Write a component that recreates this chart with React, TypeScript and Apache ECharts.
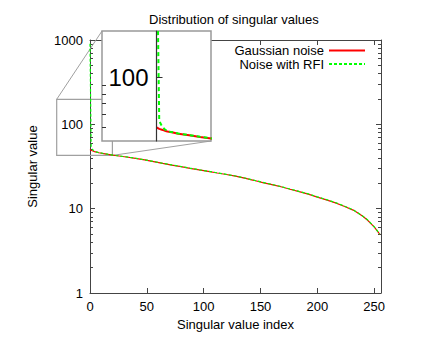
import React, { useEffect, useRef } from 'react';
import * as echarts from 'echarts';

const titleText = 'Distribution of singular values';
const seriesNames = ['Gaussian noise', 'Noise with RFI'];
const xAxisName = 'Singular value index';
const yAxisName = 'Singular value';

const sampleIndex = [0, 1, 2, 3, 4, 6, 8, 12, 16, 20, 24, 32, 40, 48, 56, 64, 72, 80, 88, 96, 104, 112, 120, 128, 136, 144, 152, 160, 168, 176, 184, 192, 200, 208, 216, 224, 232, 240, 244, 248, 250, 252, 254, 255];
const gaussianValues = [50.3, 49.2, 48.6, 48.0, 47.5, 46.8, 46.0, 45.0, 44.0, 43.1, 42.4, 41.0, 39.5, 37.9, 36.1, 34.4, 32.9, 31.5, 30.1, 28.8, 27.7, 26.5, 25.4, 24.3, 23.0, 21.7, 20.4, 19.3, 18.2, 17.0, 15.9, 14.9, 13.7, 12.7, 11.7, 10.6, 9.55, 8.11, 7.34, 6.47, 6.07, 5.6, 5.16, 4.95];
const rfiValues = [900, 55, 51, 49, 47.6, 46.9, 46.1, 45.1, 44.1, 43.2, 42.4, 41.1, 39.6, 38.0, 36.2, 34.5, 33.0, 31.6, 30.2, 28.9, 27.8, 26.6, 25.5, 24.4, 23.1, 21.8, 20.5, 19.4, 18.3, 17.1, 16.0, 15.0, 13.8, 12.8, 11.8, 10.7, 9.6, 8.15, 7.4, 6.5, 6.1, 5.65, 5.2, 4.98];

const xTicks = [0, 50, 100, 150, 200, 250];
const xRange = [0, 256];
const yRange = [1, 1000];
const yMajorTicks = [1, 10, 100, 1000];
const yMinorTicks = [2, 3, 4, 5, 6, 7, 8, 9, 20, 30, 40, 50, 60, 70, 80, 90, 200, 300, 400, 500, 600, 700, 800, 900];
const insetXRange = [-20, 20];
const insetYRange = [41.6, 191];
const insetMajorTicks = [100];
const insetMinorTicks = [50, 60, 70, 80, 90];
const zoomBoxX = [-29.3, 19.7];
const zoomBoxY = [42.8, 198];

const FONT = "'Liberation Sans', Arial, Helvetica, sans-serif";
const FRAME = '#444';
const BOX = '#a0a0a0';
const RED = '#ff0000';
const GREEN = '#00ff00';

const INSET = { left: 102, top: 31, width: 109, height: 110 };

const pairs = (vals: number[]) => sampleIndex.map((x, i) => [x, vals[i]]);
const plainNumber = (v: number) => String(Math.round(v));

export default function App() {
  const ref = useRef<HTMLDivElement>(null);
  useEffect(() => {
    document.body.style.margin = '0';
    if (!ref.current) return;
    const chart = echarts.init(ref.current, undefined, { renderer: 'svg' });
    const hiddenAxisBits = {
      axisLabel: { show: false },
      splitLine: { show: false },
    };
    // distance between the inset's grid edge and its zero line, from the inset x range
    const insetZeroOffset = INSET.width * (0 - insetXRange[0]) / (insetXRange[1] - insetXRange[0]);
    const option: any = {
      animation: false,
      textStyle: { fontFamily: FONT },
      title: {
        text: titleText,
        left: 149,
        top: 13,
        padding: 0,
        textStyle: { fontSize: 13, fontWeight: 'normal', color: '#000', fontFamily: FONT },
      },
      legend: {
        data: seriesNames,
        orient: 'vertical',
        align: 'right',
        right: 70,
        top: 44,
        itemWidth: 36,
        itemHeight: 12,
        itemGap: 0.5,
        padding: 0,
        selectedMode: false,
        itemStyle: { opacity: 0 },
        textStyle: { fontSize: 13, lineHeight: 12, color: '#000', fontFamily: FONT },
      },
      grid: [
        { left: 90, top: 40, width: 291, height: 253, outerBoundsMode: 'none', containLabel: false },
        {
          ...INSET, outerBoundsMode: 'none', containLabel: false,
          show: true, backgroundColor: '#fff', borderColor: '#999', borderWidth: 1.5, z: 3,
        },
      ],
      xAxis: [
        {
          gridIndex: 0, type: 'value', min: xRange[0], max: xRange[1], position: 'bottom',
          axisLine: { onZero: false, lineStyle: { color: FRAME } },
          axisTick: { inside: true, length: 5, customValues: xTicks, lineStyle: { color: FRAME } },
          axisLabel: { customValues: xTicks, fontSize: 13, color: '#000', margin: 7, fontFamily: FONT },
          splitLine: { show: false },
          name: xAxisName, nameLocation: 'middle', nameGap: 25,
          nameTextStyle: { fontSize: 13, color: '#000', fontFamily: FONT },
        },
        {
          gridIndex: 0, type: 'value', min: xRange[0], max: xRange[1], position: 'top',
          axisLine: { onZero: false, lineStyle: { color: FRAME } },
          axisTick: { inside: true, length: 5, customValues: xTicks, lineStyle: { color: FRAME } },
          ...hiddenAxisBits,
        },
        {
          gridIndex: 1, type: 'value', min: insetXRange[0], max: insetXRange[1], show: false,
        },
      ],
      yAxis: [
        {
          gridIndex: 0, type: 'log', logBase: 10, min: yRange[0], max: yRange[1], position: 'left',
          axisLine: { onZero: false, lineStyle: { color: FRAME } },
          axisTick: { inside: true, length: 5, customValues: yMajorTicks, lineStyle: { color: FRAME } },
          axisLabel: { customValues: yMajorTicks, formatter: plainNumber, fontSize: 13, color: '#000', margin: 7, fontFamily: FONT },
          splitLine: { show: false },
          name: yAxisName, nameLocation: 'middle', nameGap: 51,
          nameTextStyle: { fontSize: 13, color: '#000', fontFamily: FONT },
        },
        {
          gridIndex: 0, type: 'log', logBase: 10, min: yRange[0], max: yRange[1], position: 'right',
          axisLine: { onZero: false, lineStyle: { color: FRAME } },
          axisTick: { inside: true, length: 5, customValues: yMajorTicks, lineStyle: { color: FRAME } },
          ...hiddenAxisBits,
        },
        {
          gridIndex: 0, type: 'log', logBase: 10, min: yRange[0], max: yRange[1], position: 'left',
          axisLine: { show: false, onZero: false },
          axisTick: { inside: true, length: 3, customValues: yMinorTicks, lineStyle: { color: FRAME } },
          ...hiddenAxisBits,
        },
        {
          gridIndex: 0, type: 'log', logBase: 10, min: yRange[0], max: yRange[1], position: 'right',
          axisLine: { show: false, onZero: false },
          axisTick: { inside: true, length: 3, customValues: yMinorTicks, lineStyle: { color: FRAME } },
          ...hiddenAxisBits,
        },
        {
          gridIndex: 1, type: 'log', logBase: 10, min: insetYRange[0], max: insetYRange[1], position: 'left',
          z: 6,
          axisLine: { onZero: true, lineStyle: { color: '#333', width: 1.2 } },
          axisTick: { inside: true, length: 6, customValues: insetMajorTicks, lineStyle: { color: '#333' } },
          axisLabel: {
            customValues: insetMajorTicks, formatter: plainNumber, fontSize: 24, color: '#000',
            margin: 8 - insetZeroOffset, fontFamily: FONT,
          },
          splitLine: { show: false },
        },
        {
          gridIndex: 1, type: 'log', logBase: 10, min: insetYRange[0], max: insetYRange[1], position: 'left',
          z: 6,
          axisLine: { show: true, onZero: true, lineStyle: { opacity: 0 } },
          axisTick: { inside: true, length: 4, customValues: insetMinorTicks, lineStyle: { color: '#333' } },
          ...hiddenAxisBits,
        },
      ],
      series: [
        {
          type: 'line', name: seriesNames[0], xAxisIndex: 0, yAxisIndex: 0,
          data: pairs(gaussianValues), symbol: 'none', z: 2,
          lineStyle: { color: RED, width: 1.2 }, itemStyle: { color: RED },
        },
        {
          type: 'line', name: seriesNames[1], xAxisIndex: 0, yAxisIndex: 0,
          data: pairs(rfiValues), symbol: 'none', z: 2,
          lineStyle: { color: GREEN, width: 1.2, type: [3, 2] }, itemStyle: { color: GREEN },
        },
        {
          type: 'line', name: seriesNames[0], xAxisIndex: 2, yAxisIndex: 4,
          data: pairs(gaussianValues), symbol: 'none', z: 5, clip: true,
          lineStyle: { color: RED, width: 2 }, itemStyle: { color: RED },
        },
        {
          type: 'line', name: seriesNames[1], xAxisIndex: 2, yAxisIndex: 4,
          data: pairs(rfiValues), symbol: 'none', z: 5, clip: true,
          lineStyle: { color: GREEN, width: 2, type: [4, 3] }, itemStyle: { color: GREEN },
        },
      ],
    };
    chart.setOption(option);

    const p1 = chart.convertToPixel({ xAxisIndex: 0, yAxisIndex: 0 } as any, [zoomBoxX[0], zoomBoxY[1]]) as number[];
    const p2 = chart.convertToPixel({ xAxisIndex: 0, yAxisIndex: 0 } as any, [zoomBoxX[1], zoomBoxY[0]]) as number[];
    const q1 = chart.convertToPixel({ xAxisIndex: 2, yAxisIndex: 4 } as any, [insetXRange[0], insetYRange[1]]) as number[];
    const q2 = chart.convertToPixel({ xAxisIndex: 2, yAxisIndex: 4 } as any, [insetXRange[1], insetYRange[0]]) as number[];

    chart.setOption({
      graphic: [
        {
          type: 'rect', z: 1, silent: true,
          shape: { x: p1[0], y: p1[1], width: p2[0] - p1[0], height: p2[1] - p1[1] },
          style: { fill: 'none', stroke: BOX, lineWidth: 1.2 },
        },
        {
          type: 'line', z: 1, silent: true,
          shape: { x1: p1[0], y1: p1[1], x2: q1[0], y2: q1[1] },
          style: { stroke: BOX, lineWidth: 1 },
        },
        {
          type: 'line', z: 1, silent: true,
          shape: { x1: p2[0], y1: p2[1], x2: q2[0], y2: q2[1] },
          style: { stroke: BOX, lineWidth: 1 },
        },
      ],
    });

    return () => chart.dispose();
  }, []);
  return <div ref={ref} style={{ width: 436, height: 337 }} />;
}
